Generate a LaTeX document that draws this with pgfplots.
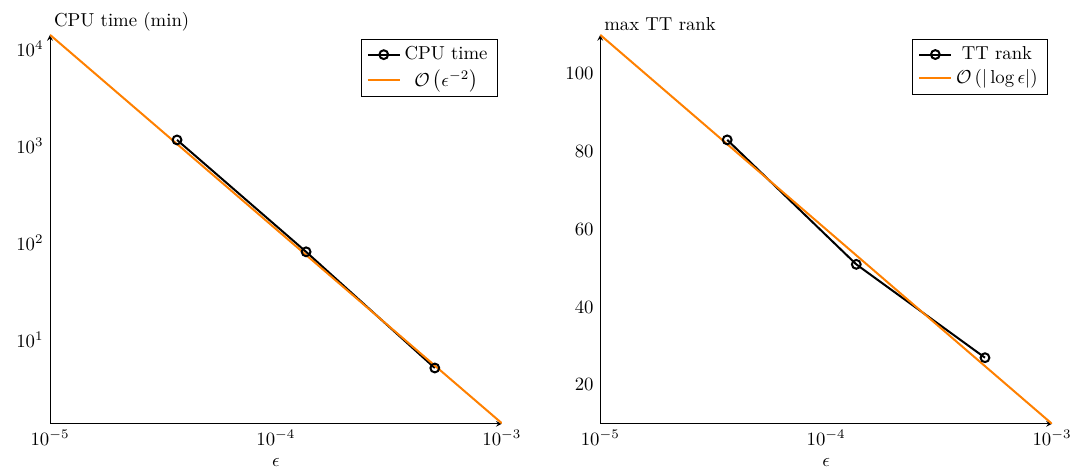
\documentclass[border=0pt]{standalone}
\usepackage{pgfplots}
\pgfplotsset{compat=1.18}
\pgfplotsset{
  common/.style={
    scale only axis,
    width=241pt, height=207.5pt,
    axis lines=left,
    xmin=1e-5, xmax=1e-3,
    xtick={1e-5,1e-4,1e-3},
    major tick length=0pt,
    minor tick length=0pt,
    xlabel={$\epsilon$},
    ylabel style={at={(axis description cs:0,1)}, rotate=-90, anchor=south west, inner sep=2pt},
    legend style={at={(0.99,0.99)}, anchor=north east, draw=black, fill=white},
  }
}
\begin{document}
\begin{tikzpicture}
\begin{axis}[name=L, xmode=log, ymode=log, common,
  ymin=1.37, ymax=1.39e4,
  ytick={10,100,1000,10000},
  ylabel={CPU time (min)}]
\addplot[black, line width=1.07pt, mark=o, mark size=2.35pt, mark options={line width=1.07pt}] coordinates {
  (3.65e-5,1150) (1.36e-4,81) (5.05e-4,5.15)};
\addlegendentry{CPU time}
\addplot[orange, line width=1.07pt] coordinates {(1e-5,1.39e4) (1e-3,1.39)};
\addlegendentry{$\mathcal{O}\left(\epsilon^{-2}\right)$}
\end{axis}
\begin{axis}[name=R, xmode=log, common, xshift=293.5pt,
  ymin=10, ymax=110,
  ytick={20,40,60,80,100},
  ylabel={max TT rank}]
\addplot[black, line width=1.07pt, mark=o, mark size=2.35pt, mark options={line width=1.07pt}] coordinates {
  (3.65e-5,83) (1.36e-4,51) (5.05e-4,27)};
\addlegendentry{TT rank}
\addplot[orange, line width=1.07pt] coordinates {(1e-5,110) (1e-3,10)};
\addlegendentry{{$\mathcal{O}\left(\vert\log\epsilon\vert\right)$}}
\end{axis}
\pgfresetboundingbox
\path[use as bounding box] ([xshift=-26.7pt,yshift=-27.7pt]L.south west) rectangle ([xshift=11.2pt,yshift=18.6pt]R.north east);
\end{tikzpicture}
\end{document}
